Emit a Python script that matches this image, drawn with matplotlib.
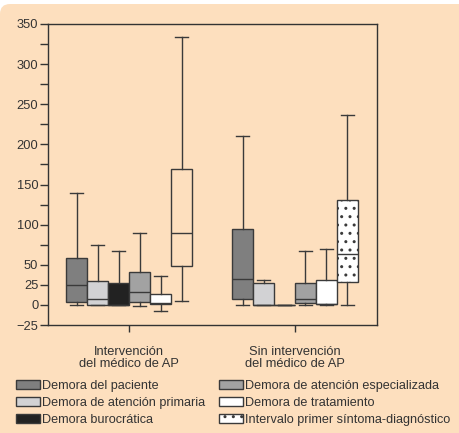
import matplotlib
matplotlib.use("Agg")
import matplotlib.pyplot as plt
from matplotlib.patches import Rectangle, FancyBboxPatch

plt.rcParams['font.family'] = ['Liberation Sans', 'DejaVu Sans']
plt.rcParams['hatch.color'] = '#333333'
plt.rcParams['hatch.linewidth'] = 1.0

series = ["Demora del paciente", "Demora de atención primaria", "Demora burocrática",
          "Demora de atención especializada", "Demora de tratamiento",
          "Intervalo primer síntoma-diagnóstico"]
groups = ["Intervención\ndel médico de AP", "Sin intervención\ndel médico de AP"]

# five-number summaries per group, one entry per series
g1_low = [0, 0, 0, -1, -7, 5]
g1_q1 = [4, 0, 0, 4, 1, 49]
g1_med = [25, 8, 0, 16, 2, 89]
g1_q3 = [58, 30, 27, 41, 13, 169]
g1_high = [140, 75, 67, 90, 36, 334]

g2_low = [0, 0, 0, 0, 0, 0]
g2_q1 = [7, 0, 0, 3, 1, 29]
g2_med = [32, 0, 0, 8, 1, 63]
g2_q3 = [95, 27, 0, 27, 31, 131]
g2_high = [211, 31, 0, 67, 70, 237]

yticks_major = [-25, 0, 25, 50, 100, 150, 200, 250, 300, 350]
yticks_minor = [75, 125, 175, 225, 275, 325]

face = ['#7f7f7f', '#d2d2d4', '#222222', '#a2a2a2', '#ffffff', '#ffffff']
face_g1_last = 'none'
hatch = [None, None, None, None, None, '..']
edge = '#3a3a3a'
peach = '#fddfbe'

W, H = 459, 433
fig = plt.figure(figsize=(W / 100, H / 100), dpi=100, facecolor='white')
bg = FancyBboxPatch((0, -1), 6, (H - 4) / 100 + 1,
                    boxstyle="round,pad=0,rounding_size=0.1",
                    transform=fig.dpi_scale_trans, facecolor=peach,
                    edgecolor='none', zorder=-10)
fig.patches.append(bg)

ax = fig.add_axes([48 / W, 1 - 325 / H, (377 - 48) / W, (325 - 24) / H])
ax.set_facecolor('none')

bw = 0.1265
data = [
    (g1_low, g1_q1, g1_med, g1_q3, g1_high),
    (g2_low, g2_q1, g2_med, g2_q3, g2_high),
]
for gi, (lo, q1, med, q3, hi) in enumerate(data):
    for si in range(len(series)):
        pos = gi + 1 + (si - 2.5) * bw
        st = [dict(whislo=lo[si], q1=q1[si], med=med[si], q3=q3[si],
                   whishi=hi[si], fliers=[])]
        b = ax.bxp(st, positions=[pos], widths=bw, patch_artist=True,
                   showfliers=False, capwidths=bw * 0.6,
                   boxprops=dict(edgecolor=edge, linewidth=1.0),
                   whiskerprops=dict(color=edge, linewidth=1.0),
                   capprops=dict(color=edge, linewidth=1.0),
                   medianprops=dict(color=edge, linewidth=1.0))
        fc = face[si]
        if gi == 0 and si == 5:
            fc = face_g1_last
        for p in b['boxes']:
            p.set_facecolor(fc)
            if gi == 1 and hatch[si]:
                p.set_hatch(hatch[si])

ax.set_xlim(0.512, 2.494)
ax.set_ylim(-25, 350)
ax.set_yticks(yticks_major)
ax.set_yticks(yticks_minor, minor=True)
ax.set_xticks([1, 2])
ax.set_xticklabels(groups, fontsize=9.3, color='#333333', linespacing=1.0)
for s in ax.spines.values():
    s.set_color('#333333')
    s.set_linewidth(1.0)
ax.tick_params(axis='y', which='both', length=6, width=1, pad=1,
               colors='#333333', labelsize=9.3)
ax.tick_params(axis='x', length=5, width=1, pad=10, colors='#333333')

handles = []
for si in range(len(series)):
    handles.append(Rectangle((0, 0), 1, 1, facecolor=face[si], edgecolor=edge,
                             linewidth=1.0, hatch=hatch[si]))
kw = dict(loc='upper left', frameon=False, fontsize=9.1, handlelength=1.9,
          handleheight=0.75, handletextpad=0.15, labelspacing=0.4,
          borderpad=0, borderaxespad=0)
leg1 = fig.legend(handles[:3], series[:3],
                  bbox_to_anchor=(16 / W, 1 - 380 / H), **kw)
leg2 = fig.legend(handles[3:], series[3:],
                  bbox_to_anchor=(219 / W, 1 - 380 / H), **kw)
for leg in (leg1, leg2):
    for t in leg.get_texts():
        t.set_color('#333333')

fig.savefig('out.png', dpi=100, facecolor=fig.get_facecolor())
